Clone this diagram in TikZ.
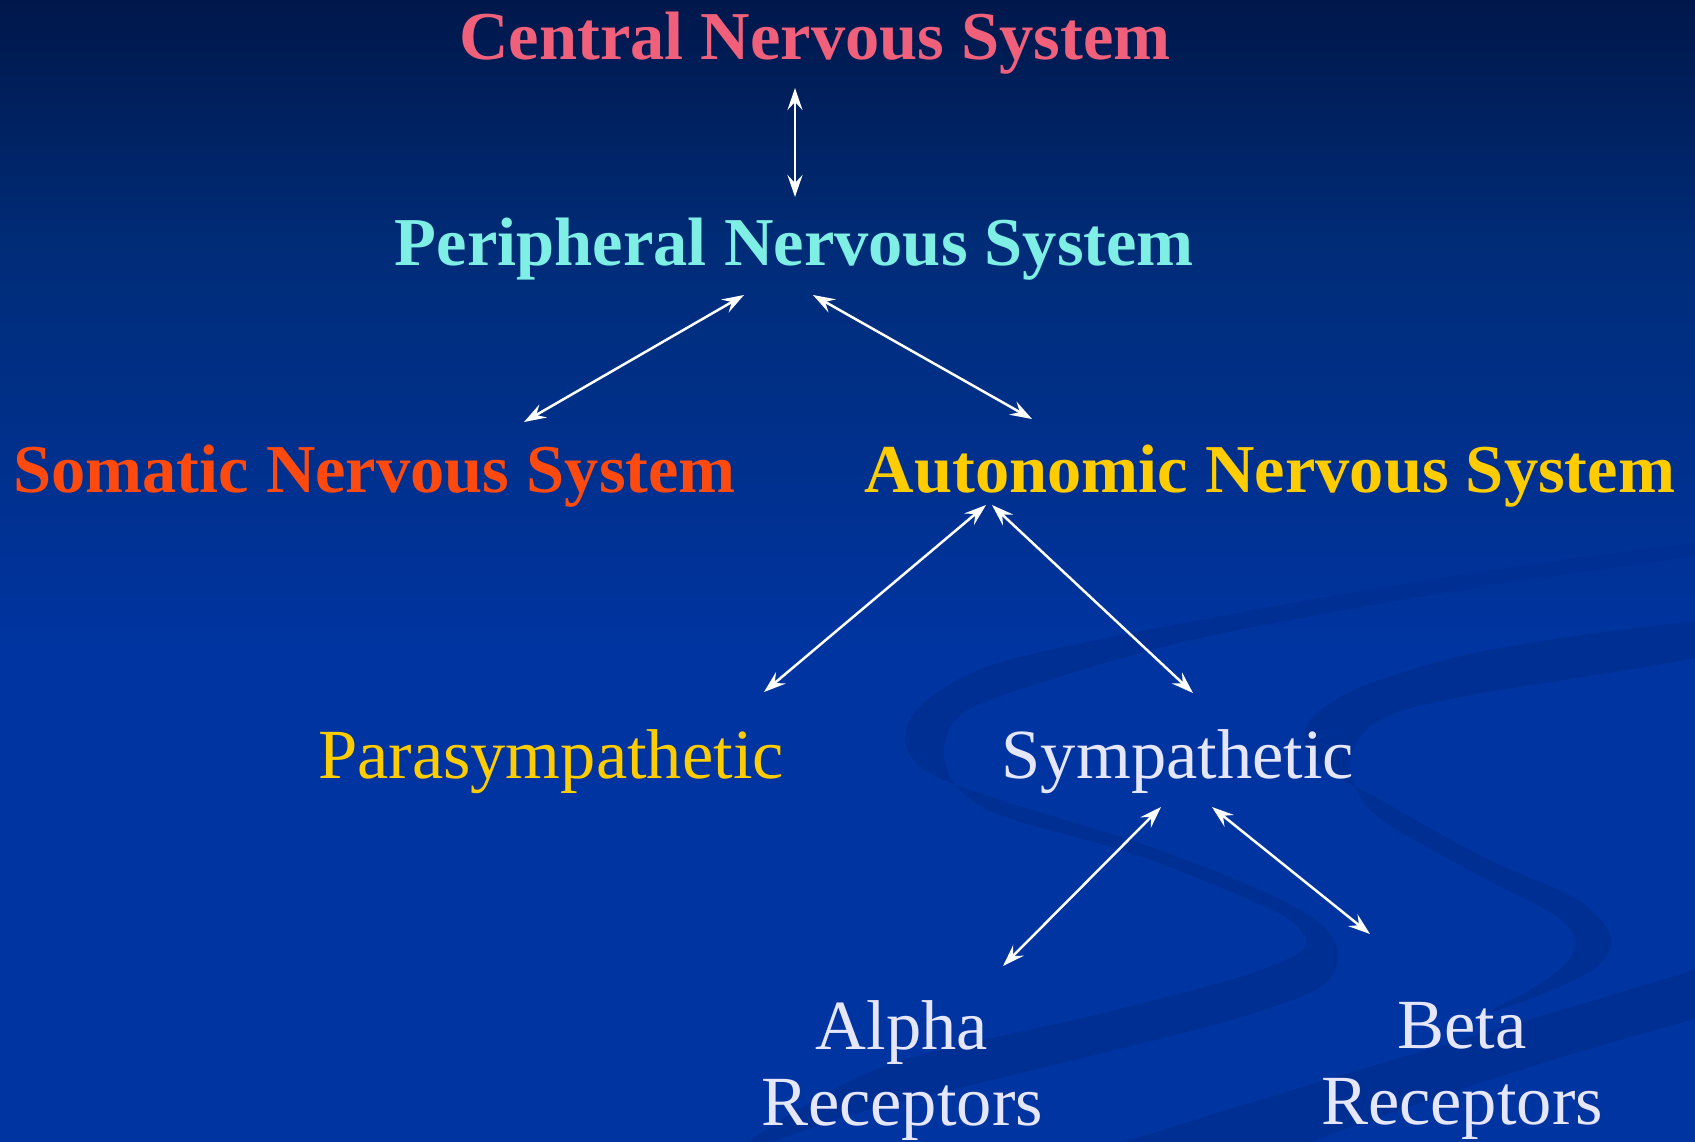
\documentclass[tikz,border=0pt]{standalone}
\usepackage{fontspec}
\setmainfont{Liberation Serif}
\usetikzlibrary{arrows.meta,calc}
\definecolor{cnsc}{HTML}{F0607A}
\definecolor{pnsc}{HTML}{7FEFE6}
\definecolor{snsc}{HTML}{FF4A0F}
\definecolor{ansc}{HTML}{FFCC00}
\definecolor{lav}{HTML}{E6E6FA}
\definecolor{bgtop}{HTML}{00174A}
\definecolor{bgmid}{HTML}{002C78}
\definecolor{bglow}{HTML}{0034A0}
\definecolor{band}{HTML}{002F93}
\begin{document}
\begin{tikzpicture}[x=1pt,y=-1pt,
  boldlab/.style={inner sep=0pt,anchor=base,font=\fontsize{68.5}{75}\selectfont\bfseries},
  reglab/.style={inner sep=0pt,anchor=base,font=\fontsize{70.5}{75.5}\selectfont,align=center},
  biarrow/.style={draw=white,line width=2.5pt,{Stealth[length=22pt,width=15pt,inset=8pt]}-{Stealth[length=22pt,width=15pt,inset=8pt]}},
  bandfill/.style={fill=band,draw=none}]
\useasboundingbox (0,0) rectangle (1695,1141);
\begin{scope}
\clip (-3,-3) rectangle (1698,1144);
\fill[bglow] (-3,-3) rectangle (1698,1144);
\shade[top color=bgtop,bottom color=bgmid] (-3,-3) rectangle (1698,250);
\shade[top color=bgmid,bottom color=bglow] (-3,249) rectangle (1698,650);
% background swooshes
\path[bandfill] plot[smooth cycle,tension=0.55] coordinates {
 (1720,540) (1460,575) (1200,620) (1002,662) (925,702) (905,740) (928,772) (1000,800)
 (1139,843) (1260,890) (1322,925) (1338,958) (1315,990) (1213,1025) (1000,1078) (860,1112) (740,1150)
 (880,1068) (1100,1014) (1240,977) (1300,952) (1302,932) (1268,908) (1140,856) (1000,815)
 (955,784) (944,748) (962,714) (1030,686) (1200,638) (1460,590) (1720,552)};
\path[bandfill] plot[smooth cycle,tension=0.55] coordinates {
 (1720,620) (1500,648) (1374,682) (1318,712) (1304,740) (1322,767) (1380,800) (1485,858)
 (1578,900) (1611,938) (1595,968) (1540,995) (1490,1012)
 (1530,990) (1565,965) (1575,940) (1555,915) (1480,876) (1385,822) (1355,787) (1352,752)
 (1380,720) (1460,697) (1720,652)};
\path[bandfill] (1720,962) .. controls (1500,1030) and (1300,1085) .. (1100,1150)
  -- (1290,1150) .. controls (1420,1100) and (1560,1055) .. (1720,1012) -- cycle;
\end{scope}
% labels
\node[boldlab,text=cnsc] (cns) at (815,59) {Central Nervous System};
\node[boldlab,text=pnsc] (pns) at (794.5,265) {Peripheral Nervous System};
\node[boldlab,text=snsc] (sns) at (374.5,492) {Somatic Nervous System};
\node[boldlab,text=ansc] (ans) at (1270,492) {Autonomic Nervous System};
\node[reglab,text=ansc] (para) at (551,778) {Parasympathetic};
\node[reglab,text=lav] (symp) at (1178,778) {Sympathetic};
\node[reglab,text=lav] (alpha) at (902,1125) {Alpha\\Receptors};
\node[reglab,text=lav] (beta) at (1462,1124) {Beta\\Receptors};
% connectors
\draw[biarrow] ($(cns.base)+(-20,29)$) -- ($(pns.base)+(0.5,-68)$);
\draw[biarrow] ($(pns.base)+(-50.5,30)$) -- ($(sns.base)+(149.5,-70)$);
\draw[biarrow] ($(pns.base)+(18.5,30)$) -- ($(ans.base)+(-238,-73)$);
\draw[biarrow] ($(ans.base)+(-284,13)$) -- ($(para.base)+(213,-86)$);
\draw[biarrow] ($(ans.base)+(-278,13)$) -- ($(symp.base)+(15,-85)$);
\draw[biarrow] ($(symp.base)+(-17,29)$) -- ($(alpha.base)+(101,-159)$);
\draw[biarrow] ($(symp.base)+(34,29)$) -- ($(beta.base)+(-92,-190)$);
\end{tikzpicture}
\end{document}
